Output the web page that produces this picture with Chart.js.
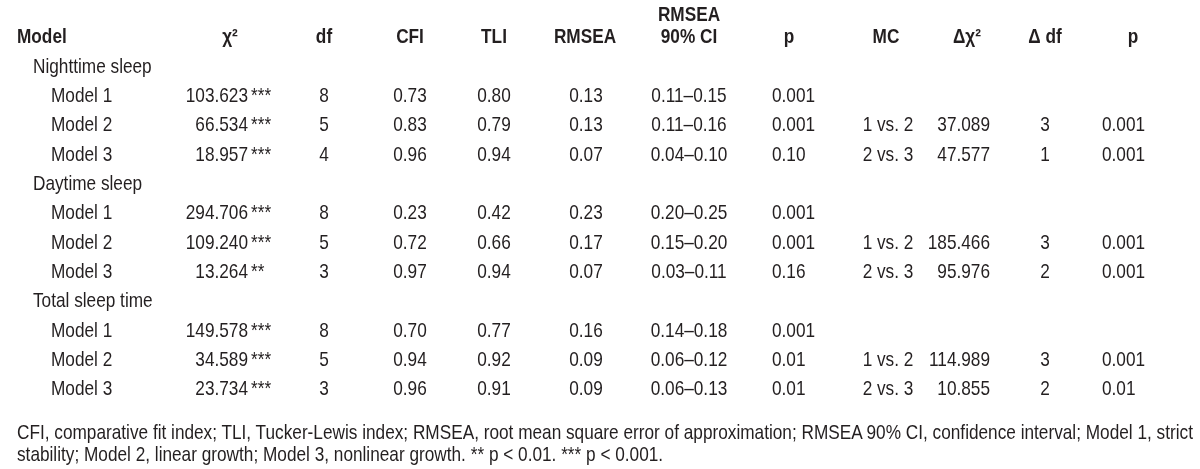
<!DOCTYPE html>
<html>
<head>
<meta charset="utf-8">
<script src="https://cdn.jsdelivr.net/npm/chart.js@4"></script>
<style>
body { margin: 0; background: #fff; }
#wrap { position: relative; width: 1200px; height: 469px; }
#note {
    position: absolute; left: 17px; top: 421px;
    font: 21px "Liberation Sans", Arial, sans-serif;
    color: #231f20; line-height: 22px; white-space: nowrap;
    transform: scaleX(0.82); transform-origin: 0 0;
}
</style>
</head>
<body>
<div id="wrap">
    <canvas id="chartTable"></canvas>
    <div id="note">CFI, comparative fit index; TLI, Tucker-Lewis index; RMSEA, root mean square error of approximation; RMSEA 90% CI, confidence interval; Model 1, strict<br>stability; Model 2, linear growth; Model 3, nonlinear growth. ** p &lt; 0.01. *** p &lt; 0.001.</div>
</div>
<script>
const headers = ["Model", "χ²", "df", "CFI", "TLI", "RMSEA", "RMSEA\n90% CI", "p", "MC", "Δχ²", "Δ df", "p"];
const groups = ["Nighttime sleep", "Daytime sleep", "Total sleep time"];
const models = ["Model 1", "Model 2", "Model 3"];

const chiSq = ["103.623", "66.534", "18.957", "294.706", "109.240", "13.264", "149.578", "34.589", "23.734"];
const chiStars = ["***", "***", "***", "***", "***", "**", "***", "***", "***"];
const df = [8, 5, 4, 8, 5, 3, 8, 5, 3];
const cfi = ["0.73", "0.83", "0.96", "0.23", "0.72", "0.97", "0.70", "0.94", "0.96"];
const tli = ["0.80", "0.79", "0.94", "0.42", "0.66", "0.94", "0.77", "0.92", "0.91"];
const rmsea = ["0.13", "0.13", "0.07", "0.23", "0.17", "0.07", "0.16", "0.09", "0.09"];
const rmseaCI = ["0.11–0.15", "0.11–0.16", "0.04–0.10", "0.20–0.25", "0.15–0.20", "0.03–0.11", "0.14–0.18", "0.06–0.12", "0.06–0.13"];
const pFit = ["0.001", "0.001", "0.10", "0.001", "0.001", "0.16", "0.001", "0.01", "0.01"];
const mc = ["", "1 vs. 2", "2 vs. 3", "", "1 vs. 2", "2 vs. 3", "", "1 vs. 2", "2 vs. 3"];
const dChiSq = ["", "37.089", "47.577", "", "185.466", "95.976", "", "114.989", "10.855"];
const dDf = ["", "3", "1", "", "3", "2", "", "3", "2"];
const pDiff = ["", "0.001", "0.001", "", "0.001", "0.001", "", "0.001", "0.01"];

// Mise en page des colonnes (ancre x en pixels sur l'axe 0..1200)
const ink = "#231f20";
const FONT = '"Liberation Sans", Arial, sans-serif';
const NARROW = 0.82; // Liberation Sans resserrée façon Arial Narrow
const headPos = [[17, "left"], [230, "center"], [324, "center"], [410, "center"], [494, "center"], [585, "center"],
                 [689, "center"], [789, "center"], [886, "center"], [967, "center"], [1045, "center"], [1133, "center"]];

const groupRow = g => 1 + g * 4;
const modelRow = i => 2 + Math.floor(i / 3) * 4 + (i % 3);

function column(values, x, align) {
    return {
        data: values.map((v, i) => ({ x: x, y: modelRow(i), text: String(v) })).filter(d => d.text !== ""),
        align: align,
        font: "21px " + FONT
    };
}

const datasets = [
    {
        data: headers.map((h, i) => ({ x: headPos[i][0], y: 0, text: h })),
        aligns: headPos.map(h => h[1]),
        font: "bold 21px " + FONT
    },
    { data: groups.map((g, i) => ({ x: 33, y: groupRow(i), text: g })), align: "left", font: "21px " + FONT },
    { data: models.concat(models, models).map((m, i) => ({ x: 51, y: modelRow(i), text: m })), align: "left", font: "21px " + FONT },
    column(chiSq, 248, "right"),
    column(chiStars, 251, "left"),
    column(df, 324, "center"),
    column(cfi, 410, "center"),
    column(tli, 494, "center"),
    column(rmsea, 586, "center"),
    column(rmseaCI, 689, "center"),
    column(pFit, 772, "left"),
    column(mc, 888, "center"),
    column(dChiSq, 990, "right"),
    column(dDf, 1045, "center"),
    column(pDiff, 1102, "left")
];

const cellText = {
    id: "cellText",
    afterDatasetsDraw(chart) {
        const ctx = chart.ctx;
        chart.data.datasets.forEach((ds, i) => {
            const meta = chart.getDatasetMeta(i);
            meta.data.forEach((pt, j) => {
                const lines = ds.data[j].text.split("\n");
                lines.forEach((s, k) => {
                    ctx.save();
                    ctx.translate(pt.x, pt.y - (lines.length - 1 - k) * 22);
                    ctx.scale(NARROW, 1);
                    ctx.font = ds.font;
                    ctx.fillStyle = ink;
                    ctx.textBaseline = "middle";
                    ctx.textAlign = ds.aligns ? ds.aligns[j] : ds.align;
                    ctx.fillText(s, 0, 0);
                    ctx.restore();
                });
            });
        });
    }
};

new Chart(document.getElementById("chartTable"), {
    type: "scatter",
    data: { datasets: datasets.map(d => Object.assign({ pointRadius: 0, pointHoverRadius: 0 }, d)) },
    options: {
        responsive: true,
        maintainAspectRatio: false,
        animation: false,
        events: [],
        layout: { padding: { top: 23, bottom: 65, left: 0, right: 0 } },
        plugins: { legend: { display: false }, tooltip: { enabled: false } },
        scales: {
            x: { type: "linear", min: 0, max: 1200, display: false },
            y: { type: "linear", min: -0.5, max: 12.5, reverse: true, display: false }
        }
    },
    plugins: [cellText]
});
</script>
</body>
</html>
